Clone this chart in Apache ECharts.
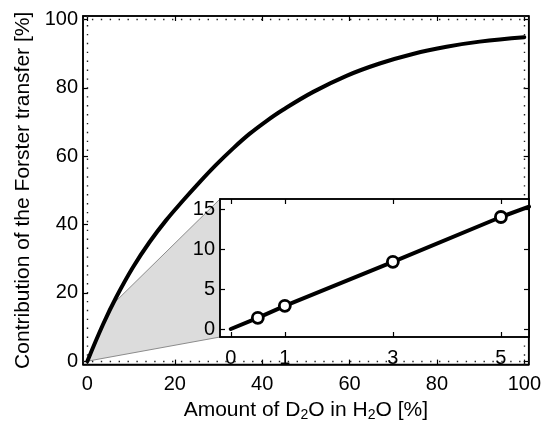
<!DOCTYPE html>
<html>
<head>
<meta charset="utf-8">
<script src="https://cdn.jsdelivr.net/npm/echarts@6/dist/echarts.min.js"></script>
<style>
html, body { margin: 0; padding: 0; background: #fff; }
#chart { width: 544px; height: 427px; }
</style>
</head>
<body>
<div id="chart"></div>
<script>
// main curve, values
const curveX = [0, 3.6, 6.6, 10.4, 14.2, 18, 21.9, 25.7, 29.5, 33.3, 37.1, 40.9, 44.7, 51.7, 59.3, 66.9, 74.5, 82.2, 89.8, 100];
const curveY = [0, 10.8, 18.7, 27.4, 34.8, 41.2, 47.0, 52.4, 57.5, 62.2, 66.5, 70.2, 73.5, 78.8, 83.5, 87.1, 89.9, 92.0, 93.5, 94.8];

// inset (low D2O range)
const insetLineX = [0, 0.5, 1, 3, 5, 5.52];
const insetLineY = [0, 1.4, 2.9, 8.4, 14.0, 15.3];
const pointX = [0.5, 1, 3, 5];
const pointY = [1.4, 2.9, 8.4, 14.0];

// tick labels
const mainTicks = [0, 20, 40, 60, 80, 100];
const insetXTicks = [0, 1, 3, 5];
const insetYTicks = [0, 5, 10, 15];

// zoomed region of the main plot shown in the inset
const zoomCorner = [5.5, 16.25];

const FONT = 'Liberation Sans';
const MAIN = { left: 83, top: 16, right: 15, bottom: 59 };
const INSET = { left: 220, top: 199, right: 15, bottom: 90 };
const W = 544, H = 427;

const pairs = (xs, ys) => xs.map((x, i) => [x, ys[i]]);

const dotted = { color: '#222', width: 1.4, type: [1.4, 7.5] };

function makeAxis(o) {
	return {
		type: 'value',
		gridIndex: o.grid,
		position: o.position,
		min: o.min,
		max: o.max,
		z: o.z,
		axisLine: { show: true, onZero: false, lineStyle: { color: '#000', width: 1.5 } },
		axisTick: {
			show: true,
			inside: true,
			length: 5,
			customValues: o.ticks,
			lineStyle: { color: '#000', width: 1.2 }
		},
		axisLabel: {
			show: !!o.labels,
			customValues: o.ticks,
			fontSize: 20,
			fontFamily: FONT,
			color: '#000',
			margin: o.margin || 8
		},
		splitLine: { show: false }
	};
}

const chart = echarts.init(document.getElementById('chart'));

const xMain = makeAxis({ grid: 0, position: 'bottom', min: -1, max: 101, ticks: mainTicks, labels: true, margin: 10, z: 1 });
xMain.name = 'Amount of D{s|2}O in H{s|2}O [%]';
xMain.nameLocation = 'middle';
xMain.nameGap = 30;
xMain.nameTextStyle = {
	fontSize: 21, fontFamily: FONT, color: '#000',
	rich: { s: { fontSize: 14, fontFamily: FONT, color: '#000', padding: [10, 0, 0, 0] } }
};

const yMain = makeAxis({ grid: 0, position: 'left', min: -1, max: 101, ticks: mainTicks, labels: true, margin: 5, z: 1 });
yMain.name = 'Contribution of the Forster transfer [%]';
yMain.nameLocation = 'middle';
yMain.nameGap = 45;
yMain.nameTextStyle = { fontSize: 21, fontFamily: FONT, color: '#000' };

const option = {
	animation: false,
	backgroundColor: '#fff',
	grid: [
		Object.assign({ show: true, borderColor: '#000', borderWidth: 1.5, z: 0 }, MAIN),
		Object.assign({ show: true, borderColor: '#000', borderWidth: 1.5, backgroundColor: '#fff', z: 10 }, INSET)
	],
	xAxis: [
		xMain,
		makeAxis({ grid: 0, position: 'top', min: -1, max: 101, ticks: mainTicks, z: 1 }),
		makeAxis({ grid: 1, position: 'bottom', min: -0.2, max: 5.52, ticks: insetXTicks, labels: true, margin: 11, z: 12 }),
		makeAxis({ grid: 1, position: 'top', min: -0.2, max: 5.52, ticks: insetXTicks, z: 12 })
	],
	yAxis: [
		yMain,
		makeAxis({ grid: 0, position: 'right', min: -1, max: 101, ticks: mainTicks, z: 1 }),
		makeAxis({ grid: 1, position: 'left', min: -1, max: 16.25, ticks: insetYTicks, labels: true, margin: 5, z: 12 }),
		makeAxis({ grid: 1, position: 'right', min: -1, max: 16.25, ticks: insetYTicks, z: 12 })
	],
	series: [
		{
			// grey zoom wedge linking the origin to the inset
			type: 'custom',
			xAxisIndex: 0,
			yAxisIndex: 0,
			z: 1,
			silent: true,
			clip: false,
			data: [[0, 0]],
			renderItem: function (params, api) {
				const p0 = api.coord([api.value(0), api.value(1)]);
				const p1 = api.coord(zoomCorner);
				return {
					type: 'polygon',
					shape: {
						points: [p0, p1, [INSET.left, INSET.top], [INSET.left, H - INSET.bottom]]
					},
					style: { fill: '#dcdcdc', stroke: '#8c8c8c', lineWidth: 1 }
				};
			}
		},
		{
			type: 'line',
			xAxisIndex: 0,
			yAxisIndex: 0,
			z: 3,
			data: pairs(curveX, curveY),
			smooth: 0.4,
			showSymbol: false,
			lineStyle: { color: '#000', width: 4, cap: 'round' },
			markLine: {
				silent: true,
				symbol: 'none',
				label: { show: false },
				lineStyle: dotted,
				data: [{ xAxis: 0 }, { xAxis: 100 }, { yAxis: 0 }, { yAxis: 100 }]
			}
		},
		{
			type: 'line',
			xAxisIndex: 2,
			yAxisIndex: 2,
			z: 13,
			data: pairs(insetLineX, insetLineY),
			showSymbol: false,
			lineStyle: { color: '#000', width: 4, cap: 'round' },
			markLine: {
				silent: true,
				symbol: 'none',
				label: { show: false },
				lineStyle: dotted,
				data: [{ xAxis: 0 }, { yAxis: 0 }]
			}
		},
		{
			type: 'scatter',
			xAxisIndex: 2,
			yAxisIndex: 2,
			z: 14,
			data: pairs(pointX, pointY),
			symbol: 'circle',
			symbolSize: 11,
			itemStyle: { color: '#fff', borderColor: '#000', borderWidth: 2.8, opacity: 1 }
		}
	]
};

chart.setOption(option);
</script>
</body>
</html>
